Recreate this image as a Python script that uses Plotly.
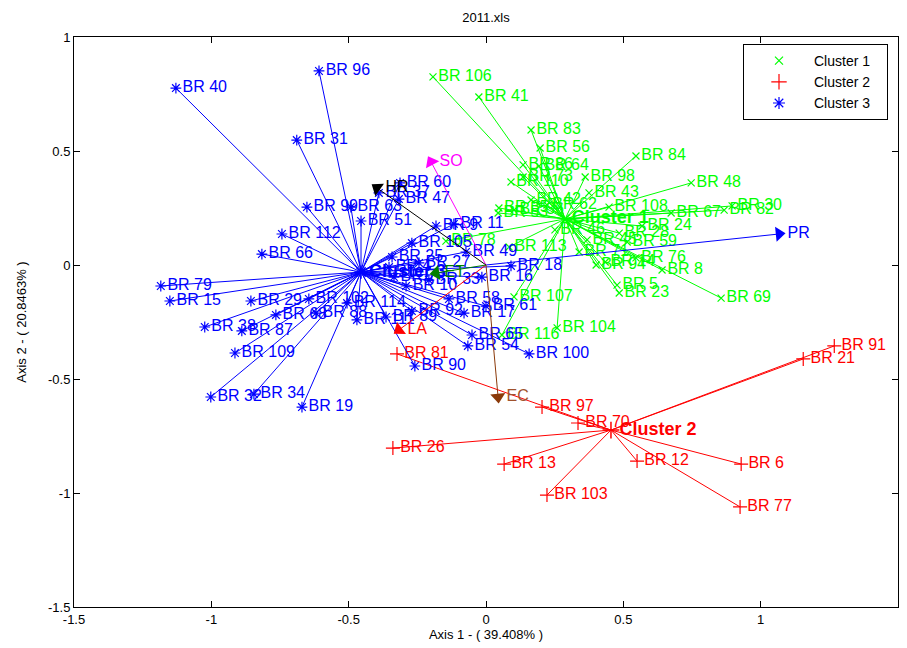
import math
import plotly.graph_objects as go

# ---------------- data ----------------
# Cluster 1 (green)
c1_center = [0.288, 0.202]
c1_labels = ["BR 106", "BR 41", "BR 83", "BR 56", "BR 86", "BR 64", "BR 73", "BR 110",
             "BR 98", "BR 84", "BR 48", "BR 43", "BR 42", "BR 35", "BR 53", "BR 36",
             "BR 108", "BR 30", "BR 82", "BR 67", "BR 24", "BR 28", "BR 59", "BR 45",
             "BR 76", "BR 8", "BR 69", "BR 5", "BR 23", "BR 94", "BR 14", "BR 113",
             "BR 78", "BR 107", "BR 104", "BR 116", "BR 62", "BR 46", "BR 71"]
c1_x = [-0.193, -0.026, 0.164, 0.197, 0.135, 0.193, 0.135, 0.091,
        0.361, 0.546, 0.747, 0.375, 0.164, 0.047, 0.044, 0.102,
        0.448, 0.896, 0.867, 0.674, 0.568, 0.485, 0.514, 0.368,
        0.546, 0.641, 0.856, 0.477, 0.485, 0.401, 0.434, 0.084,
        -0.146, 0.102, 0.259, 0.058, 0.222, 0.251, 0.339]
c1_y = [0.825, 0.737, 0.592, 0.513, 0.439, 0.434, 0.386, 0.364,
        0.386, 0.478, 0.360, 0.316, 0.285, 0.250, 0.228, 0.241,
        0.254, 0.259, 0.241, 0.228, 0.171, 0.140, 0.101, 0.110,
        0.031, -0.022, -0.145, -0.088, -0.123, 0.000, 0.013, 0.079,
        0.105, -0.140, -0.276, -0.307, 0.263, 0.154, 0.057]

# Cluster 2 (red)
c2_center = [0.455, -0.724]
c2_labels = ["BR 91", "BR 21", "BR 97", "BR 70", "BR 26", "BR 13", "BR 12",
             "BR 6", "BR 103", "BR 77", "BR 81"]
c2_x = [1.268, 1.155, 0.204, 0.335, -0.339, 0.066, 0.550, 0.929, 0.222, 0.925, -0.324]
c2_y = [-0.355, -0.412, -0.623, -0.693, -0.803, -0.873, -0.860, -0.873, -1.009, -1.061, -0.390]

# Cluster 3 (blue)
c3_center = [-0.455, -0.031]
c3_labels = ["BR 40", "BR 96", "BR 31", "BR 99", "BR 63", "BR 51", "BR 60", "BR 37",
             "BR 47", "BR 112", "BR 66", "BR 79", "BR 15", "BR 29", "BR 38", "BR 87",
             "BR 109", "BR 32", "BR 34", "BR 19", "BR 68", "BR 102", "BR 88", "BR 114",
             "BR 111", "BR 89", "BR 9", "BR 11", "BR 105", "BR 25", "BR 49", "BR 4",
             "BR 27", "BR 10", "BR 7", "BR 33", "BR 16", "BR 18", "BR 58", "BR 61",
             "BR 17", "BR 92", "BR 65", "BR 54", "BR 100", "BR 90"]
c3_x = [-1.129, -0.608, -0.689, -0.652, -0.492, -0.455, -0.313, -0.390,
        -0.317, -0.743, -0.816, -1.184, -1.151, -0.856, -1.024, -0.889,
        -0.914, -1.002, -0.845, -0.670, -0.765, -0.645, -0.619, -0.506,
        -0.470, -0.364, -0.182, -0.117, -0.270, -0.342, -0.073, -0.353,
        -0.244, -0.291, -0.335, -0.208, -0.015, 0.091, -0.135, 0.000,
        -0.080, -0.270, -0.051, -0.066, 0.157, -0.259]
c3_y = [0.776, 0.851, 0.548, 0.254, 0.254, 0.193, 0.360, 0.316,
        0.289, 0.136, 0.048, -0.092, -0.158, -0.158, -0.272, -0.289,
        -0.386, -0.579, -0.566, -0.623, -0.219, -0.149, -0.211, -0.167,
        -0.241, -0.228, 0.171, 0.180, 0.096, 0.035, 0.057, -0.009,
        0.009, -0.092, -0.053, -0.066, -0.053, -0.004, -0.149, -0.180,
        -0.211, -0.202, -0.307, -0.355, -0.390, -0.443]

# Variable vectors (biplot arrows)
var_names = ["PR", "SO", "HR", "EC", "LA", "ET"]
var_x = [1.067, -0.200, -0.397, 0.044, -0.317, -0.182]
var_y = [0.136, 0.452, 0.338, -0.579, -0.285, -0.035]

# axis ticks
x_ticks = [-1.5, -1, -0.5, 0, 0.5, 1, 1.5]
y_ticks = [-1.5, -1, -0.5, 0, 0.5, 1]

# ---------------- styles / layout ----------------
FONT = "Liberation Sans, Arial, sans-serif"
X_RANGE = [-1.5, 1.5]
Y_RANGE = [-1.5, 1.0]
FIG_W, FIG_H = 899, 640          # page body has an 8px margin
M_L, M_R, M_T, M_B = 66, 9, 29, 41
PLOT_W = FIG_W - M_L - M_R
PLOT_H = FIG_H - M_T - M_B
SX = PLOT_W / (X_RANGE[1] - X_RANGE[0])
SY = PLOT_H / (Y_RANGE[1] - Y_RANGE[0])

cluster_styles = [
    dict(name="Cluster 1", color="#00FF00", symbol="x-thin-open", size=7),
    dict(name="Cluster 2", color="#FF0000", symbol="cross-thin-open", size=10),
    dict(name="Cluster 3", color="#0000FF", symbol="asterisk-open", size=9),
]
var_colors = {"PR": "#0000FF", "SO": "#FF00FF", "HR": "#000000",
              "EC": "#8B3A0A", "LA": "#FF0000", "ET": "#007F00"}
var_text_colors = {"PR": "#0000FF", "SO": "#FF00FF", "HR": "#000000",
                   "EC": "#A0522D", "LA": "#FF0000", "ET": "#007F00"}

clusters = [
    (c1_center, c1_labels, c1_x, c1_y),
    (c2_center, c2_labels, c2_x, c2_y),
    (c3_center, c3_labels, c3_x, c3_y),
]

fig = go.Figure()


def spokes(center, xs, ys):
    X, Y = [], []
    for x, y in zip(xs, ys):
        X += [center[0], x, None]
        Y += [center[1], y, None]
    return X, Y


for (center, labels, xs, ys), st in zip(clusters, cluster_styles):
    X, Y = spokes(center, xs, ys)
    fig.add_trace(go.Scatter(x=X, y=Y, mode="lines",
                             line=dict(color=st["color"], width=1),
                             hoverinfo="skip", showlegend=False))
    fig.add_trace(go.Scatter(x=xs, y=ys, mode="markers+text", text=labels,
                             textposition="middle right",
                             textfont=dict(family=FONT, size=16, color=st["color"]),
                             marker=dict(symbol=st["symbol"], size=st["size"],
                                         color=st["color"],
                                         line=dict(color=st["color"], width=1.2)),
                             showlegend=False))
    fig.add_trace(go.Scatter(x=[center[0]], y=[center[1]], mode="markers+text",
                             text=["<b>" + st["name"] + "</b>"],
                             textposition="middle right",
                             textfont=dict(family=FONT, size=18, color=st["color"]),
                             marker=dict(symbol=st["symbol"], size=st["size"] + 2,
                                         color=st["color"],
                                         line=dict(color=st["color"], width=1.5)),
                             showlegend=False))

for name, vx, vy in zip(var_names, var_x, var_y):
    col = var_colors[name]
    # rotation (clockwise from up) of the arrow head in screen space
    ang = math.degrees(math.atan2(vx * SX, vy * SY))
    fig.add_trace(go.Scatter(x=[0, vx], y=[0, vy], mode="lines",
                             line=dict(color=col, width=1),
                             hoverinfo="skip", showlegend=False))
    fig.add_trace(go.Scatter(x=[vx], y=[vy], mode="markers",
                             marker=dict(symbol="triangle-up", size=13, angle=ang,
                                         color=col, line=dict(width=0)),
                             hoverinfo="skip", showlegend=False))
    fig.add_trace(go.Scatter(x=[vx], y=[vy], mode="markers+text", text=[name],
                             textposition="middle right",
                             textfont=dict(family=FONT, size=16,
                                           color=var_text_colors[name]),
                             marker=dict(size=12, opacity=0),
                             hoverinfo="skip", showlegend=False))

# legend-only entries
for st in cluster_styles:
    fig.add_trace(go.Scatter(x=[None], y=[None], mode="markers",
                             name=st["name"] + "&nbsp;&nbsp;&nbsp;",
                             marker=dict(symbol=st["symbol"], size=st["size"] + 1,
                                         color=st["color"],
                                         line=dict(color=st["color"], width=1.2)),
                             showlegend=True))

axis_common = dict(showline=True, linecolor="black", linewidth=1, mirror="ticks",
                   ticks="inside", ticklen=6, tickcolor="black", showgrid=False,
                   zeroline=False, automargin=False,
                   tickfont=dict(family=FONT, size=13, color="black"))

fig.update_layout(
    width=FIG_W, height=FIG_H,
    margin=dict(l=M_L, r=M_R, t=M_T, b=M_B, autoexpand=False),
    paper_bgcolor="white", plot_bgcolor="white",
    title=dict(text="2011.xls", x=0.5, xref="paper", y=1 - 9 / FIG_H,
               yref="container", yanchor="middle",
               font=dict(family=FONT, size=13, color="black")),
    xaxis=dict(range=X_RANGE, tickvals=x_ticks,
               ticktext=[f"{v:g}" for v in x_ticks],
               title=dict(text="Axis 1 - ( 39.408% )", standoff=2,
                          font=dict(family=FONT, size=13, color="black")),
               **axis_common),
    yaxis=dict(range=Y_RANGE, tickvals=y_ticks,
               ticktext=[f"{v:g}" for v in y_ticks],
               title=dict(text="Axis 2 - ( 20.8463% )", standoff=18,
                          font=dict(family=FONT, size=13, color="black")),
               **axis_common),
    legend=dict(x=(743 - 8 - M_L) / PLOT_W, xanchor="left",
                y=1 - (44 - 8 - M_T) / PLOT_H, yanchor="top",
                bgcolor="white", bordercolor="black", borderwidth=1,
                font=dict(family=FONT, size=14, color="black"),
                itemwidth=60, tracegroupgap=0),
    showlegend=True,
)

fig.write_html("out.html")
